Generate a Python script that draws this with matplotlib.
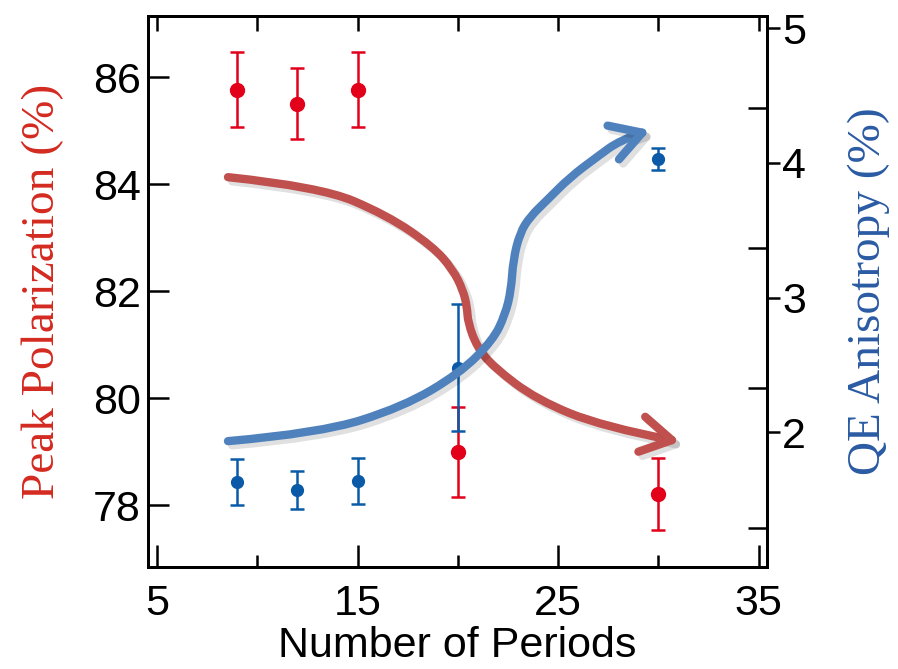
import numpy as np
import matplotlib
matplotlib.use("Agg")
import matplotlib.pyplot as plt
from matplotlib.path import Path
from matplotlib.patches import FancyArrowPatch
import matplotlib.patheffects as pe

# number of periods
periods = [9, 12, 15, 20, 30]

# peak polarization (%), left axis
pol = [85.76, 85.50, 85.76, 79.00, 78.21]
pol_err = [0.70, 0.66, 0.70, 0.84, 0.67]

# QE anisotropy (%), right axis
qe = [1.63, 1.57, 1.64, 2.48, 4.03]
qe_err = [0.17, 0.14, 0.17, 0.47, 0.08]

# guide arrows drawn in the left-axis coordinates
red_arrow_x = [8.54, 13.13, 16.47, 18.77, 19.76, 20.26, 20.46, 20.51, 20.96, 21.76, 23.95, 27.24, 31.08]
red_arrow_y = [84.13, 83.95, 83.42, 82.83, 82.40, 82.02, 81.71, 81.41, 80.96, 80.59, 79.97, 79.47, 79.19]
blue_arrow_x = [8.54, 13.13, 17.27, 20.11, 21.76, 22.36, 22.66, 22.76, 23.10, 23.60, 24.45, 25.60, 26.95, 28.09, 29.59]
blue_arrow_y = [79.20, 79.35, 79.84, 80.47, 81.09, 81.56, 82.02, 82.58, 83.09, 83.39, 83.70, 84.13, 84.51, 84.82, 85.01]

red = '#e2001a'
blue = '#0a5aa8'
arrow_red = '#c0504d'
arrow_blue = '#4f81bd'

plt.rcParams['font.family'] = ['Liberation Sans', 'DejaVu Sans']

fig = plt.figure(figsize=(8.98, 6.69), dpi=100)
ax = fig.add_axes([0.1648, 0.1525, 0.6893, 0.8236])
ax2 = ax.twinx()

ax.errorbar(periods, pol, yerr=pol_err, fmt='o', color=red, ms=10,
            elinewidth=1.8, capsize=5, capthick=1.8)
ax2.errorbar(periods, qe, yerr=qe_err, fmt='o', color=blue, ms=8.5,
             elinewidth=1.8, capsize=5, capthick=1.8)

ax.set_xlim(4.55, 35.42)
ax.set_ylim(76.85, 87.14)
ax2.set_ylim(1.0, 5.09)


def smooth_path(xs, ys):
    pts = np.column_stack([xs, ys])
    verts = [pts[0]]
    codes = [Path.MOVETO]
    for i in range(1, len(pts) - 1):
        end = pts[i + 1] if i == len(pts) - 2 else (pts[i] + pts[i + 1]) / 2
        verts += [pts[i], end]
        codes += [Path.CURVE3, Path.CURVE3]
    return Path(verts, codes)


for xs, ys, col in [(red_arrow_x, red_arrow_y, arrow_red),
                    (blue_arrow_x, blue_arrow_y, arrow_blue)]:
    arr = FancyArrowPatch(path=smooth_path(xs, ys),
                          arrowstyle='->,head_length=0.55,head_width=0.32',
                          mutation_scale=40, lw=6, color=col,
                          transform=ax.transData, zorder=5)
    arr.set_path_effects([pe.SimpleLineShadow(offset=(3, -3), shadow_color='k', alpha=0.12),
                          pe.Normal()])
    ax2.add_patch(arr)

# ticks
ax.set_xticks([5, 15, 25, 35])
ax.set_xticks([10, 20, 30], minor=True)
ax.set_yticks([78, 80, 82, 84, 86])
ax.tick_params(axis='x', which='major', direction='in', length=16, width=1.8,
               labelsize=31, pad=12, top=False)
ax.tick_params(axis='x', which='minor', direction='in', length=9, width=1.8, top=False)
ax.tick_params(axis='y', direction='in', length=15, width=1.8, labelsize=31, pad=5,
               right=False)

top = ax.secondary_xaxis('top')
top.set_xticks([5, 10, 15, 20, 25, 30, 35])
top.tick_params(direction='in', length=11, width=1.8, labeltop=False)
top.spines['top'].set_linewidth(2)

ax2.set_yticks([2, 3, 4, 5])
ax2.set_yticks([1.29, 2.33, 3.37, 4.41], minor=True)
ax2.tick_params(axis='y', which='major', direction='out', length=9, width=1.8,
                labelsize=31, pad=2)
ax2.tick_params(axis='y', which='minor', direction='in', length=14, width=1.8)

for a in (ax, ax2):
    for s in a.spines.values():
        s.set_linewidth(2)

ax.set_xlabel('Number of Periods', fontsize=31, labelpad=2)
ax.set_ylabel('Peak Polarization (%)', fontsize=34, color='#d42a20',
              family=['Liberation Serif'], labelpad=21)
ax2.set_ylabel('QE Anisotropy (%)', fontsize=34, color='#2a5ba3',
               family=['Liberation Serif'], labelpad=30)

fig.savefig('out.png', dpi=100)
